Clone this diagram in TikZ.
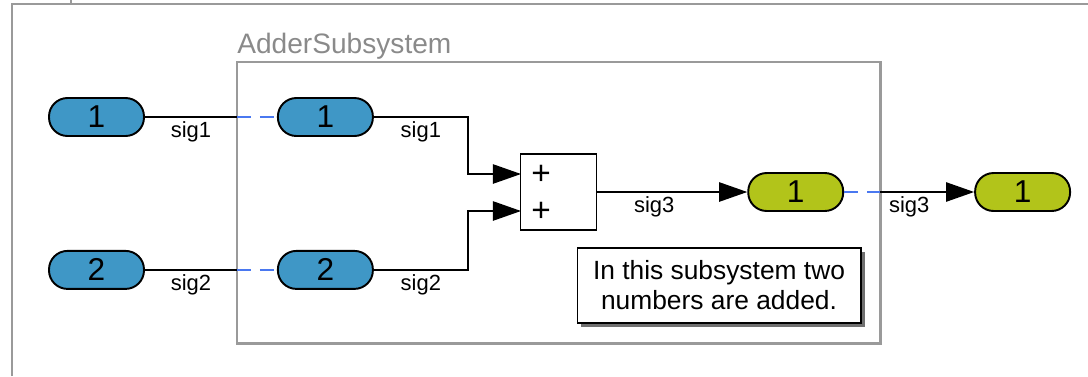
\documentclass[tikz,border=0pt]{standalone}
\usepackage{fontspec}
\setmainfont{Liberation Sans}
\usepackage{tikz}
\usetikzlibrary{positioning, arrows.meta, shadows}

\definecolor{portblue}{HTML}{3F97C6}
\definecolor{portgreen}{HTML}{B2C41A}
\definecolor{linkblue}{HTML}{4A78F0}
\definecolor{framegray}{HTML}{9A9A9A}
\definecolor{titlegray}{HTML}{8A8A8A}
\definecolor{shadowgray}{HTML}{707070}

\begin{document}
\begin{tikzpicture}[
        x=0.02cm, y=-0.02cm,      % one unit per pixel, y grows downwards
        >={Triangle[length=16pt, width=11pt]}, % large filled signal arrows
        port/.style={             % rounded in/out ports
            draw=black,
            line width=1.1pt,
            rounded corners=0.37cm,
            minimum width=1.9cm,
            minimum height=0.76cm,
            inner sep=0pt,
            font=\fontsize{18}{18}\selectfont
        },
        inport/.style={port, fill=portblue},
        outport/.style={port, fill=portgreen},
        sumblock/.style={draw=black, line width=0.9pt, fill=white, minimum size=1.52cm},
        plus/.style={inner sep=0pt, font=\fontsize{19}{19}\selectfont},
        wire/.style={draw=black, line width=0.9pt},
        link/.style={draw=linkblue, line width=0.9pt, dash pattern=on 8pt off 5pt},
        sig/.style={below, inner sep=2pt, font=\fontsize{12.5}{12.5}\selectfont},
        frame/.style={draw=framegray, line width=1.7pt},
        note/.style={
            draw=black, line width=0.6pt, fill=white,
            minimum width=5.68cm, minimum height=1.5cm,
            align=center,
            font=\fontsize{15}{17}\selectfont,
            drop shadow={shadow xshift=2.3pt, shadow yshift=-2.3pt, fill=shadowgray, opacity=1}
        }
    ]

    \useasboundingbox (0,0) rectangle (1088,376);

    % --- Frames ---
    \draw[frame] (12,376) -- (12,4) -- (1088,4);
    \draw[frame] (71,0) -- (71,4);
    \draw[frame] (237,62) rectangle (880,343);
    \node[anchor=base west, inner sep=0pt, text=titlegray,
          font=\fontsize{16}{16}\selectfont] (sysname) at (237,53) {AdderSubsystem};

    % --- Ports and blocks ---

    % 1. Outer inputs
    \node[inport] (in1) at (96.5,117) {1};
    \node[inport] (in2) [below=2.26cm of in1] {2};

    % 2. Inner inputs
    \node[inport] (sin1) [right=2.64cm of in1] {1};
    \node[inport] (sin2) [right=2.64cm of in2] {2};

    % 3. Sum block with its two inputs
    \node[sumblock] (sum) at (558.5,192) {};
    \node[plus] (plusA) at (541,175) {+};
    \node[plus] (plusB) at (541,212) {+};
    \coordinate (sumA) at (521,174);
    \coordinate (sumB) at (521,211);

    % 4. Inner and outer outputs
    \node[outport] (sout1) [right=3cm of sum] {1};
    \node[outport] (out1) [right=2.6cm of sout1] {1};

    % --- Crossing points on the subsystem border ---
    \coordinate (b1) at (237,117);
    \coordinate (b2) at (in2 -| b1);
    \coordinate (b3) at (880,192);

    % --- Signals ---
    \path[wire] (in1) -- node[sig] {sig1} (b1);
    \path[link] (b1) -- (sin1);
    \path[wire] (in2) -- node[sig] {sig2} (b2);
    \path[link] (b2) -- (sin2);

    \draw[wire, ->] (sin1.east) -- ++(94,0) node[sig, midway] {sig1} |- (sumA);
    \draw[wire, ->] (sin2.east) -- ++(94,0) node[sig, midway] {sig2} |- (sumB);

    \draw[wire, ->] (sum) -- node[sig, pos=0.38] {sig3} (sout1);
    \path[link] (sout1) -- (b3);
    \draw[wire, ->] (b3) -- node[sig, pos=0.31] {sig3} (out1);

    % --- Comment ---
    \node[note] (remark) at (719,285.5) {In this subsystem two\\numbers are added.};

\end{tikzpicture}
\end{document}
